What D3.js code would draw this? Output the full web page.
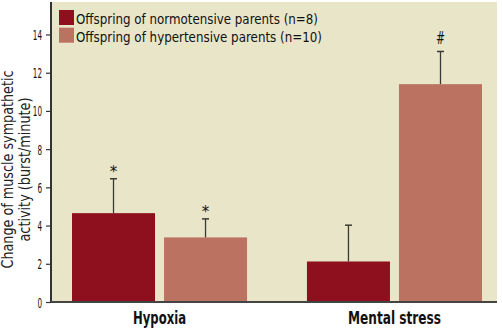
<!DOCTYPE html>
<html>
<head>
<meta charset="utf-8">
<script src="https://cdn.jsdelivr.net/npm/d3@7"></script>
<style>
  html, body { margin: 0; padding: 0; background: #ffffff; }
  svg { display: block; }
</style>
</head>
<body>
<svg id="chart" width="502" height="331"></svg>
<script>
// Muscle sympathetic nerve activity responses by parental blood pressure history
const categories = ["Hypoxia", "Mental stress"];
const seriesNames = ["Offspring of normotensive parents (n=8)", "Offspring of hypertensive parents (n=10)"];
const normotensive = [4.65, 2.12];
const hypertensive = [3.38, 11.4];
const normotensiveErr = [1.8, 1.9];
const hypertensiveErr = [0.97, 1.71];
const normotensiveMarks = ["*", ""];
const hypertensiveMarks = ["*", "#"];
const yTicks = [0, 2, 4, 6, 8, 10, 12, 14];
const yTitle = ["Change of muscle sympathetic", "activity (burst/minute)"];
const colors = ["#8e0f1e", "#bb7260"];

const seriesValues = [normotensive, hypertensive];
const seriesErrs = [normotensiveErr, hypertensiveErr];
const seriesMarks = [normotensiveMarks, hypertensiveMarks];

const FONT = "'DejaVu Sans', sans-serif";
const svg = d3.select("#chart");
const plot = { left: 51, right: 497, top: 2, bottom: 302 };

const y = d3.scaleLinear().domain([0, 15.7]).range([plot.bottom, plot.top]);
const x0 = d3.scaleBand().domain(categories).range([51, 503])
  .paddingInner(0.255).paddingOuter(0.0894);
const x1 = d3.scaleBand().domain(d3.range(seriesNames.length)).range([0, x0.bandwidth()])
  .paddingInner(0.098).paddingOuter(0);

// panel background
svg.append("rect")
  .attr("x", plot.left).attr("y", plot.top)
  .attr("width", plot.right - plot.left).attr("height", plot.bottom - plot.top)
  .attr("fill", "#e8e5c9");

// bars, error bars and significance marks
const rows = [];
categories.forEach((c, ci) => {
  seriesNames.forEach((s, si) => {
    rows.push({ cat: c, si, v: seriesValues[si][ci], e: seriesErrs[si][ci], m: seriesMarks[si][ci] });
  });
});

const g = svg.append("g");
g.selectAll("rect.bar").data(rows).join("rect")
  .attr("class", "bar")
  .attr("x", d => x0(d.cat) + x1(d.si))
  .attr("y", d => y(d.v))
  .attr("width", x1.bandwidth())
  .attr("height", d => y(0) - y(d.v))
  .attr("fill", d => colors[d.si]);

const cx = d => x0(d.cat) + x1(d.si) + x1.bandwidth() / 2;
g.selectAll("line.err").data(rows).join("line")
  .attr("class", "err")
  .attr("x1", cx).attr("x2", cx)
  .attr("y1", d => y(d.v)).attr("y2", d => y(d.v + d.e))
  .attr("stroke", "#3a3a32").attr("stroke-width", 1.3);
g.selectAll("line.cap").data(rows).join("line")
  .attr("class", "cap")
  .attr("x1", d => cx(d) - 3.5).attr("x2", d => cx(d) + 3.5)
  .attr("y1", d => y(d.v + d.e)).attr("y2", d => y(d.v + d.e))
  .attr("stroke", "#3a3a32").attr("stroke-width", 1.5);
g.selectAll("text.mark").data(rows.filter(d => d.m)).join("text")
  .attr("class", "mark")
  .attr("x", cx)
  .attr("y", d => y(d.v + d.e) - (d.m === "#" ? 7 : 2))
  .attr("text-anchor", "middle")
  .attr("font-family", FONT)
  .attr("font-size", d => d.m === "#" ? 18 : 15)
  .attr("fill", "#111")
  .text(d => d.m)
  .each(function (d) {
    if (d.m === "#") d3.select(this).attr("textLength", 9).attr("lengthAdjust", "spacingAndGlyphs");
  });

// y axis
const yAxis = svg.append("g")
  .attr("transform", `translate(${plot.left},0)`)
  .call(d3.axisLeft(y).tickValues(yTicks).tickSize(5).tickPadding(4).tickSizeOuter(0));
yAxis.select(".domain").attr("stroke", "#333").attr("stroke-width", 2)
  .attr("d", `M0,${plot.top}V${plot.bottom}`);
yAxis.selectAll(".tick line").attr("stroke", "#333").attr("stroke-width", 1.2);
yAxis.selectAll(".tick text")
  .attr("font-family", FONT).attr("font-size", 14).attr("fill", "#111")
  .attr("dy", "0.36em")
  .attr("textLength", d => String(d).length * 4.6)
  .attr("lengthAdjust", "spacingAndGlyphs");

// x axis baseline and category labels
svg.append("line")
  .attr("x1", plot.left).attr("x2", plot.right)
  .attr("y1", plot.bottom).attr("y2", plot.bottom)
  .attr("stroke", "#444").attr("stroke-width", 2);
const catWidths = { "Hypoxia": 53, "Mental stress": 93 };
svg.selectAll("text.cat").data(categories).join("text")
  .attr("class", "cat")
  .attr("x", d => x0(d) + x0.bandwidth() / 2)
  .attr("y", 324)
  .attr("text-anchor", "middle")
  .attr("font-family", FONT).attr("font-weight", "bold").attr("font-size", 18.5)
  .attr("fill", "#111")
  .attr("textLength", d => catWidths[d])
  .attr("lengthAdjust", "spacingAndGlyphs")
  .text(d => d);

// y axis title
const titleWidths = [198, 144];
svg.append("g")
  .attr("transform", "translate(12.5,169.5) rotate(-90)")
  .selectAll("text").data(yTitle).join("text")
  .attr("x", 0).attr("y", (d, i) => i * 17)
  .attr("text-anchor", "middle")
  .attr("font-family", FONT).attr("font-size", 15)
  .attr("fill", "#222")
  .attr("textLength", (d, i) => titleWidths[i])
  .attr("lengthAdjust", "spacingAndGlyphs")
  .text(d => d);

// legend
const legendWidths = [242, 246];
const legend = svg.append("g").attr("transform", "translate(59,10)");
const li = legend.selectAll("g").data(seriesNames).join("g")
  .attr("transform", (d, i) => `translate(0,${i * 17.7})`);
li.append("rect").attr("width", 15).attr("height", 15).attr("fill", (d, i) => colors[i]);
li.append("text")
  .attr("x", 17).attr("y", 14)
  .attr("font-family", FONT)
  .attr("font-size", 14.5)
  .attr("fill", "#111")
  .attr("textLength", (d, i) => legendWidths[i])
  .attr("lengthAdjust", "spacingAndGlyphs")
  .text(d => d);
</script>
</body>
</html>
